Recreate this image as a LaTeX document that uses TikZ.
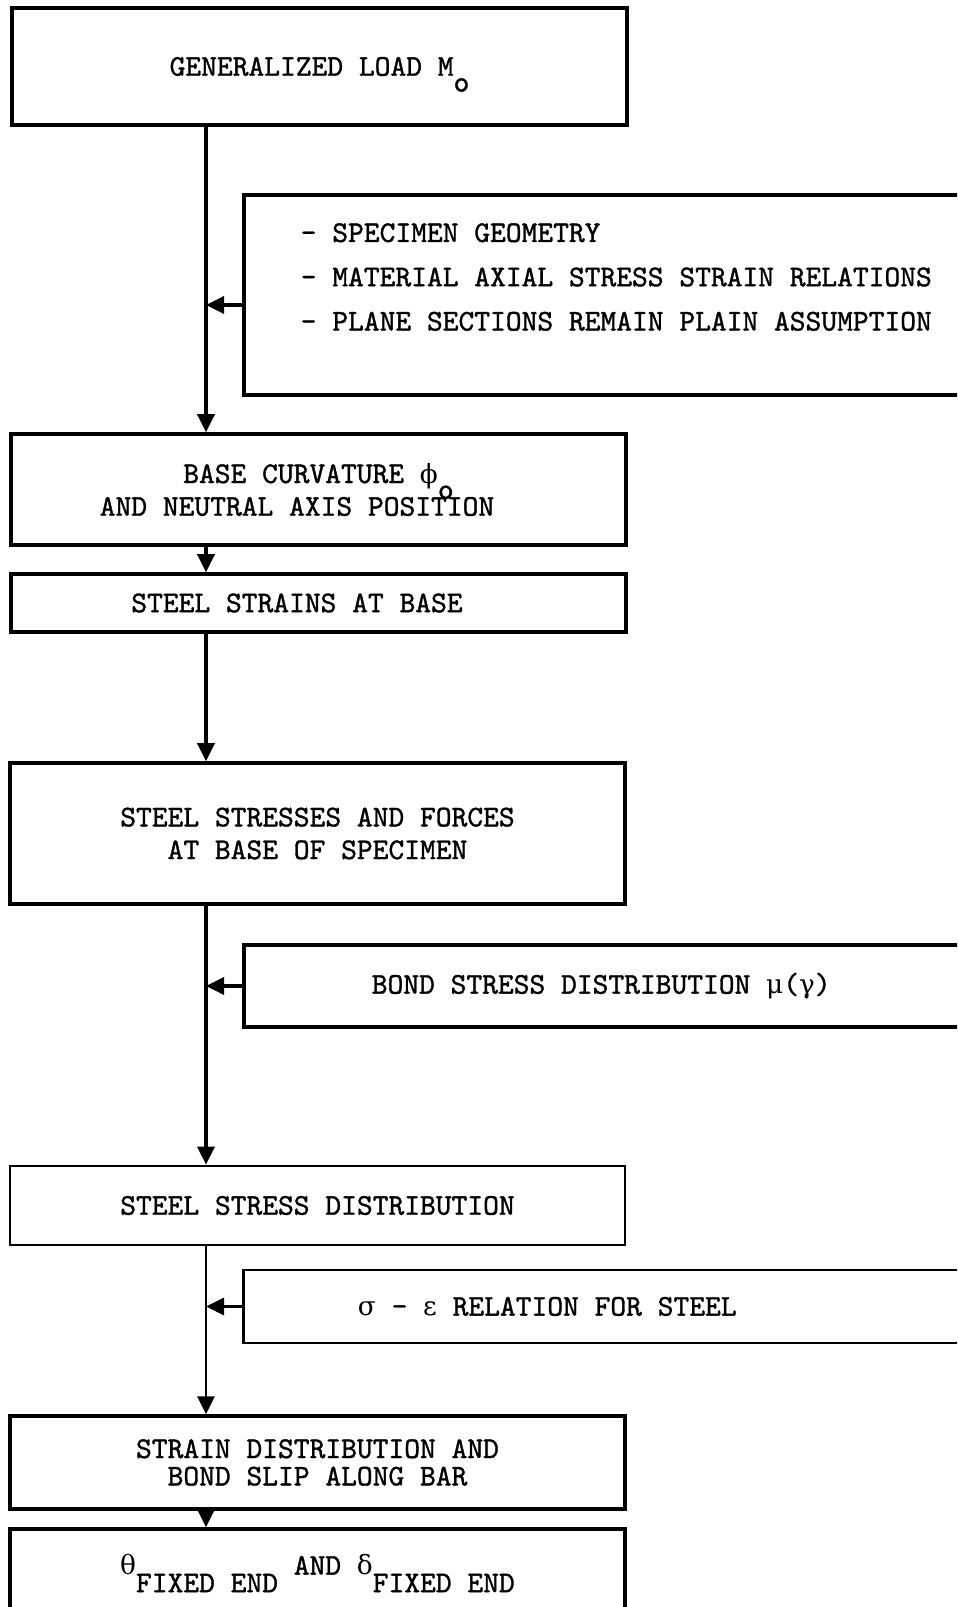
\documentclass[tikz,border=0pt]{standalone}
\usepackage{fontspec}
\usepackage{tikz}
\usetikzlibrary{positioning,arrows.meta}

% typewriter face, slightly heavier
\newfontfamily\typer{lmmono10-regular.otf}[FakeBold=1.2]
\newfontfamily\greekfont{DejaVu Serif}
\newcommand{\gr}[1]{{\greekfont\fontsize{15}{15}\selectfont #1}}

\begin{document}
\begin{tikzpicture}
\tikzset{
block/.style={rectangle,draw=black,line width=2pt,minimum width=12.3cm,font=\fontsize{17.1}{18.6}\selectfont\typer,align=center},
thinblock/.style={block,line width=1.6pt},
sideblock/.style={rectangle,draw=black,line width=2pt,minimum width=15.5cm,anchor=west,font=\fontsize{17.1}{25.2}\selectfont\typer,align=flush left},
myarrow/.style={-{Triangle[length=0.36cm,width=0.34cm]},line width=2pt},
thinarrow/.style={myarrow,line width=1.6pt},
}

% page frame, side boxes run off the edge
\useasboundingbox (0,0) rectangle (19.14,-32.14);
\clip (0,0) rectangle (19.14,-32.14);

\coordinate (spine) at (4.12,0);

\node [block, minimum height=2.34cm] (load) at (6.39,-1.33) {GENERALIZED LOAD M\smash{\raisebox{-9pt}{o}}};
\node [sideblock, minimum height=4cm, inner xsep=1.14cm, text width=13.22cm, text depth=71pt] (givens) at (4.84,-5.9)
  {- SPECIMEN GEOMETRY\\- MATERIAL AXIAL STRESS STRAIN RELATIONS\\- PLANE SECTIONS REMAIN PLAIN ASSUMPTION};
\node [block, minimum height=2.22cm] (curv) at (6.37,-9.79)
  {BASE CURVATURE \gr{ϕ}\smash{\raisebox{-9pt}{o}}\\AND NEUTRAL AXIS POSITION\hspace*{0.86cm}};
\node [block, minimum height=1.16cm] (strains) at (6.37,-12.06) {STEEL STRAINS AT BASE\hspace*{0.86cm}};
\node [block, minimum height=2.82cm] (forces) at (6.35,-16.67) {STEEL STRESSES AND FORCES\\AT BASE OF SPECIMEN};
\node [sideblock, minimum height=1.64cm, inner xsep=2.56cm, text width=10.38cm] (bond) at (4.84,-19.72)
  {BOND STRESS DISTRIBUTION \gr{μ}(\gr{γ})};
\node [thinblock, minimum height=1.58cm] (distr) at (6.35,-24.11) {STEEL STRESS DISTRIBUTION};
\node [sideblock, line width=1.6pt, minimum height=1.46cm, inner xsep=2.29cm, text width=10.92cm] (steel) at (4.84,-26.13)
  {\gr{σ} - \gr{ε} RELATION FOR STEEL};
\node [block, minimum height=1.86cm] (slip) at (6.35,-29.25) {STRAIN DISTRIBUTION AND\\[-3pt]BOND SLIP ALONG BAR};
\node [block, minimum height=2.16cm] (ends) at (6.35,-31.66)
  {\smash{\raisebox{10pt}{\gr{θ}}}FIXED END \smash{\raisebox{10pt}{AND}} \smash{\raisebox{10pt}{\gr{δ}}}FIXED END};

\draw[myarrow] (load.south -| spine) -- (curv.north -| spine);
\draw[myarrow] ([yshift=-0.2cm]givens.west) -- ([yshift=-0.2cm]givens.west -| spine);
\draw[myarrow] (curv.south -| spine) -- (strains.north -| spine);
\draw[myarrow] (strains.south -| spine) -- (forces.north -| spine);
\draw[myarrow] (forces.south -| spine) -- (distr.north -| spine);
\draw[myarrow] (bond.west) -- (bond.west -| spine);
\draw[thinarrow] (distr.south -| spine) -- (slip.north -| spine);
\draw[thinarrow] (steel.west) -- (steel.west -| spine);
\draw[myarrow] (slip.south -| spine) -- (ends.north -| spine);
\end{tikzpicture}
\end{document}
